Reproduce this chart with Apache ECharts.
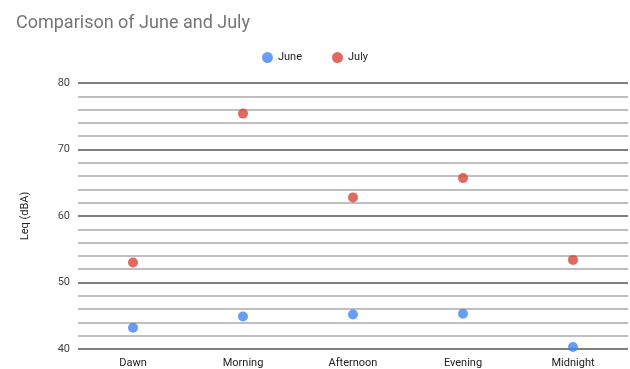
<!DOCTYPE html>
<html>
  <head>
    <meta charset="utf-8" />
    <title>Comparison of June and July</title>
    <script src="https://cdn.jsdelivr.net/npm/echarts@6/dist/echarts.min.js"></script>
  </head>
  <body style="margin:0;background:#fff;">
    <div id="main" style="width:630px;height:369px;"></div>
    <script type="text/javascript">
      // data
      var periods = ['Dawn', 'Morning', 'Afternoon', 'Evening', 'Midnight'];
      var june = [43.2, 44.9, 45.2, 45.3, 40.3];
      var july = [53.0, 75.4, 62.8, 65.7, 53.4];

      var myChart = echarts.init(document.getElementById('main'));

      var option = {
        animation: false,
        title: {
          text: 'Comparison of June and July',
          left: 11,
          top: 9,
          textStyle: { color: '#757575', fontSize: 18, fontWeight: 'normal', fontFamily: 'Roboto' }
        },
        legend: {
          top: 47,
          left: 'center',
          itemGap: 30,
          icon: 'circle',
          itemWidth: 11,
          itemHeight: 11,
          textStyle: { color: '#222', fontSize: 11, fontFamily: 'Roboto' },
          data: ['June', 'July']
        },
        grid: { left: 78, right: 2, top: 83, bottom: 20 },
        xAxis: {
          type: 'category',
          data: periods,
          axisLine: { show: false },
          axisTick: { show: false },
          axisLabel: { color: '#222', fontSize: 11, fontFamily: 'Roboto', margin: 9 }
        },
        yAxis: {
          type: 'value',
          min: 40,
          max: 80,
          interval: 10,
          name: 'Leq (dBA)',
          nameLocation: 'middle',
          nameGap: 47,
          nameTextStyle: { color: '#222', fontSize: 11, fontFamily: 'Roboto' },
          axisLine: { show: false },
          axisTick: { show: false },
          axisLabel: { color: '#444', fontSize: 11, fontFamily: 'Roboto', margin: 8 },
          splitLine: { lineStyle: { color: '#555', width: 1.5 } },
          minorTick: { show: false, splitNumber: 5 },
          minorSplitLine: { show: true, lineStyle: { color: '#aaa', width: 1.5 } }
        },
        series: [
          {
            name: 'June',
            type: 'scatter',
            symbolSize: 10,
            itemStyle: { color: '#4285F4' },
            data: june
          },
          {
            name: 'July',
            type: 'scatter',
            symbolSize: 10,
            itemStyle: { color: '#DB4437' },
            data: july
          }
        ]
      };

      myChart.setOption(option);
    </script>
  </body>
</html>
